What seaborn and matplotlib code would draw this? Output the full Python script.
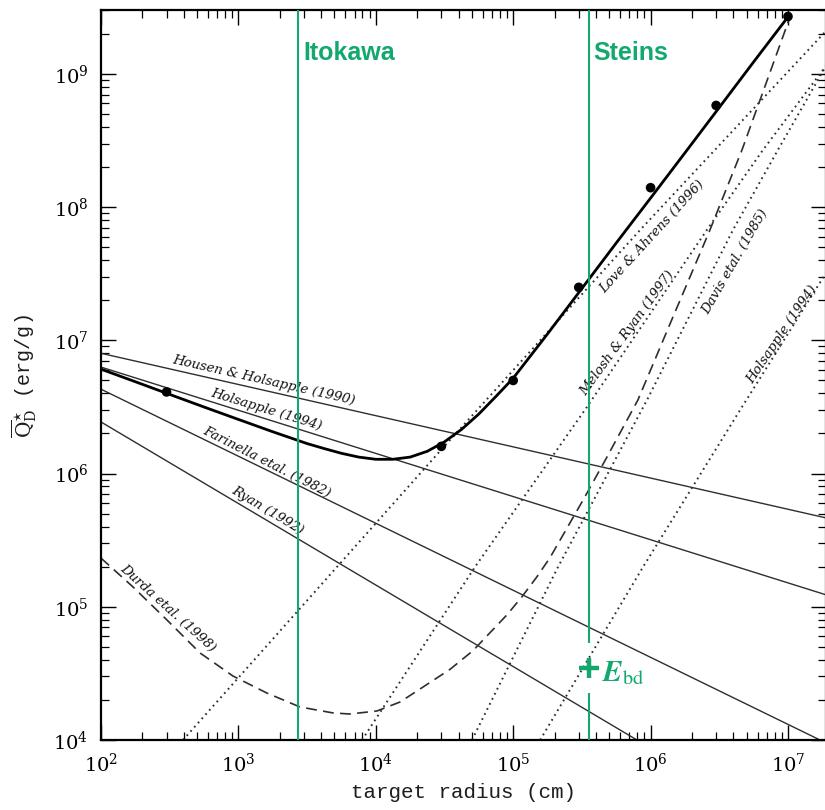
import matplotlib
matplotlib.use("Agg")
import matplotlib.pyplot as plt
from matplotlib.ticker import LogLocator, NullFormatter
import seaborn as sns

# ---------------- data ----------------
# thick solid curve (this work) and its simulation points
curve_r = [1e2, 1.78e2, 3.16e2, 5.62e2, 1e3, 1.78e3, 3.16e3, 4.22e3, 5.62e3, 7.5e3, 1e4,
           1.33e4, 1.78e4, 2.37e4, 3.16e4, 4.22e4, 5.62e4, 7.5e4, 1e5, 1.78e5, 3.16e5,
           5.62e5, 1e6, 1.78e6, 3.16e6, 5.62e6, 1e7]
curve_q = [6.08e6, 4.89e6, 3.93e6, 3.16e6, 2.55e6, 2.06e6, 1.68e6, 1.54e6, 1.42e6, 1.33e6,
           1.28e6, 1.28e6, 1.33e6, 1.47e6, 1.73e6, 2.15e6, 2.8e6, 3.8e6, 5.2e6, 1.12e7,
           2.45e7, 5.38e7, 1.17e8, 2.56e8, 5.6e8, 1.23e9, 2.68e9]
dots_r = [3e2, 3e4, 1e5, 3e5, 1e6, 3e6, 1e7]
dots_q = [4.1e6, 1.6e6, 5.0e6, 2.5e7, 1.4e8, 5.8e8, 2.7e9]

# strength-regime straight lines (solid, thin)
hh90_r = [1e2, 1.89e7]
hh90_q = [8.0e6, 4.65e5]
hol94s_r = [1e2, 1.89e7]
hol94s_q = [6.3e6, 1.23e5]
far82_r = [1e2, 1.71e7]
far82_q = [4.3e6, 1e4]
ryan92_r = [1e2, 7.96e5]
ryan92_q = [2.44e6, 1e4]

# Durda et al. (1998), dashed
durda_r = [100, 171, 302, 526, 914, 1614, 2805, 4887, 6486, 10210, 15000, 20990, 34670,
           50930, 90160, 115900, 148900, 185400, 322100, 482000, 809100, 1.384e6,
           2.704e6, 4.624e6, 1.035e7]
durda_q = [2.32e5, 1.409e5, 7.96e4, 4.50e4, 3.02e4, 2.25e4, 1.77e4, 1.596e4, 1.567e4,
           1.652e4, 1.928e4, 2.415e4, 3.39e4, 4.68e4, 8.71e4, 1.19e5, 1.68e5,
           2.34e5, 6.31e5, 1.334e6, 3.573e6, 1.327e7, 6.745e7, 2.685e8, 2.679e9]

# gravity-regime lines (dotted)
love96_r = [395, 3.08e4, 8.4e5, 1.89e7]
love96_q = [1e4, 1.56e6, 6.75e7, 2.1e9]
melosh97_r = [7.94e3, 5.27e4, 3.44e5, 2.57e6, 6.58e6, 1.89e7]
melosh97_q = [1e4, 1.99e5, 3.16e6, 6.75e7, 2.69e8, 1.15e9]
davis85_r = [5.01e4, 2.12e5, 9.42e5, 3.98e6, 8.45e6, 1.89e7]
davis85_q = [1e4, 1.99e5, 3.57e6, 6.75e7, 2.69e8, 1.15e9]
hol94g_r = [1.57e5, 8.81e5, 4.48e6, 1.89e7]
hol94g_q = [1e4, 1.99e5, 3.0e6, 3.2e7]

# curve labels: text, x, y, angle
label_text = ["Housen & Holsapple (1990)", "Holsapple (1994)", "Farinella etal. (1982)",
              "Ryan (1992)", "Durda etal. (1998)", "Love & Ahrens (1996)",
              "Melosh & Ryan (1997)", "Davis etal. (1985)", "Holsapple (1994)"]
label_x = [1.53e3, 1.59e3, 1.61e3, 1.64e3, 308, 1.02e6, 6.73e5, 4.11e6, 9.04e6]
label_y = [5.05e6, 3.0e6, 1.22e6, 5.33e5, 9.8e4, 5.97e7, 1.14e7, 3.88e7, 1.10e7]
label_rot = [-12.8, -17, -27, -31, -42, 47.5, 54, 60, 56]

# annotations
itokawa_r = 2.72e3
steins_r = 3.56e5
ebd_q = 3.47e4

# ---------------- figure ----------------
sns.set_theme(style="ticks")
plt.rcParams["font.family"] = ["DejaVu Serif"]
plt.rcParams["mathtext.fontset"] = "dejavuserif"

GREEN = "#12a86e"
LINE = "#2e2e2e"

fig = plt.figure(figsize=(8.25, 8.10), dpi=100)
ax = fig.add_axes([101 / 825, 70 / 810, 725 / 825, 730 / 810])
ax.set_xscale("log")
ax.set_yscale("log")
ax.set_xlim(1e2, 1.891e7)
ax.set_ylim(1e4, 3.02e9)


def line(x, y, **kw):
    sns.lineplot(x=x, y=y, ax=ax, estimator=None, sort=False, legend=False, **kw)


for xr, yq in [(hh90_r, hh90_q), (hol94s_r, hol94s_q), (far82_r, far82_q), (ryan92_r, ryan92_q)]:
    line(xr, yq, color=LINE, linewidth=1.0)

line(durda_r, durda_q, color=LINE, linewidth=1.2, linestyle=(0, (6.5, 3.8)))

for xr, yq in [(love96_r, love96_q), (melosh97_r, melosh97_q),
               (davis85_r, davis85_q), (hol94g_r, hol94g_q)]:
    line(xr, yq, color=LINE, linewidth=1.4, linestyle=(0, (0.9, 2.0)))

line(curve_r, curve_q, color="black", linewidth=2.0)
sns.scatterplot(x=dots_r, y=dots_q, ax=ax, color="black", s=48, edgecolor="none",
                zorder=5, legend=False)

for t, xx, yy, rr in zip(label_text, label_x, label_y, label_rot):
    ax.text(xx, yy, t, rotation=rr, rotation_mode="anchor", ha="center", va="center",
            fontsize=9.5, fontstyle="italic", color="#111111", family="DejaVu Serif")

# green annotations
ax.axvline(itokawa_r, color=GREEN, linewidth=1.5, zorder=6)
ax.vlines([steins_r, steins_r], ymin=[1e4, 5.35e4], ymax=[2.25e4, 3.1e9], color=GREEN,
          linewidth=1.5, zorder=6)
ax.plot([steins_r], [ebd_q], marker="+", markersize=15, markeredgewidth=3.2,
        color=GREEN, zorder=7)
ax.text(2.95e3, 1.27e9, "Itokawa", color=GREEN, fontsize=18, fontweight="bold",
        family="Liberation Sans", ha="left", va="baseline")
ax.text(3.81e5, 1.27e9, "Steins", color=GREEN, fontsize=18, fontweight="bold",
        family="Liberation Sans", ha="left", va="baseline")
ax.text(4.43e5, 2.77e4, r"$\boldsymbol{E}_{\mathrm{bd}}$", color=GREEN, fontsize=21,
        math_fontfamily="stix", ha="left", va="baseline")

# axes styling
ax.xaxis.set_minor_locator(LogLocator(base=10, subs=range(2, 10), numticks=30))
ax.yaxis.set_minor_locator(LogLocator(base=10, subs=range(2, 10), numticks=30))
ax.xaxis.set_minor_formatter(NullFormatter())
ax.yaxis.set_minor_formatter(NullFormatter())
ax.tick_params(which="both", direction="in", top=True, right=True, colors="black")
ax.tick_params(which="major", length=11, width=1.0, labelsize=14, pad=9)
ax.tick_params(which="minor", length=5.5, width=0.9)
for s in ax.spines.values():
    s.set_linewidth(1.6)
    s.set_color("black")
ax.set_xlabel("")
ax.set_ylabel("")

fig.text(464 / 825, 1 - 792 / 810, "target radius (cm)", ha="center", va="center",
         fontsize=15, color="#1e1e1e", family="Liberation Mono")
fig.text(24 / 825, 1 - 376 / 810, r"$\overline{\mathrm{Q}}^{\star}_{\mathrm{D}}$ (erg/g)",
         rotation=90, ha="center", va="center", fontsize=14.5, color="#1e1e1e",
         family="Liberation Mono")

fig.savefig("out.png", dpi=100)
